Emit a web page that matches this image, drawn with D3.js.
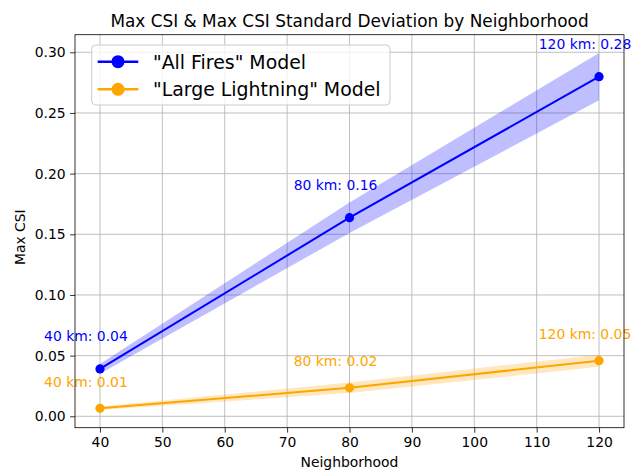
<!DOCTYPE html>
<html>
<head>
<meta charset="utf-8">
<script src="https://cdn.jsdelivr.net/npm/d3@7"></script>
<style>
  body { margin: 0; background: #fff; }
  text { font-family: "DejaVu Sans", sans-serif; }
</style>
</head>
<body>
<svg width="634" height="476"></svg>
<script>
// data
const neighborhoods = [40, 80, 120];
const allFiresCSI = [0.039, 0.1637, 0.2799];
const allFiresStd = [0.004, 0.0126, 0.0195];
const lightningCSI = [0.0066, 0.0235, 0.0458];
const lightningStd = [0.0015, 0.0044, 0.005];
const xTicks = [40, 50, 60, 70, 80, 90, 100, 110, 120];
const yTicks = [0, 0.05, 0.10, 0.15, 0.20, 0.25, 0.30];

const series = [
  { name: '"All Fires" Model', color: '#0000ff', vals: allFiresCSI, std: allFiresStd, lift: 0.02 },
  { name: '"Large Lightning" Model', color: '#ffa500', vals: lightningCSI, std: lightningStd, lift: 0.015 }
];

const svg = d3.select('svg');
const mLeft = 75, mRight = 624, mTop = 34.7, mBottom = 427.7;

const x = d3.scaleLinear().domain([36, 124]).range([mLeft, mRight]);
const y = d3.scaleLinear().domain([-0.0094, 0.3145]).range([mBottom, mTop]);

// grid
svg.append('g').selectAll('line').data(xTicks).join('line')
  .attr('x1', d => x(d)).attr('x2', d => x(d))
  .attr('y1', mTop).attr('y2', mBottom)
  .attr('stroke', '#b0b0b0').attr('stroke-width', 0.8);
svg.append('g').selectAll('line').data(yTicks).join('line')
  .attr('x1', mLeft).attr('x2', mRight)
  .attr('y1', d => y(d)).attr('y2', d => y(d))
  .attr('stroke', '#b0b0b0').attr('stroke-width', 0.8);

// bands + lines + markers
series.forEach(s => {
  const pts = neighborhoods.map((n, i) => ({ n: n, v: s.vals[i], sd: s.std[i] }));
  svg.append('path').datum(pts)
    .attr('d', d3.area().x(d => x(d.n)).y0(d => y(d.v - d.sd)).y1(d => y(d.v + d.sd)))
    .attr('fill', s.color).attr('fill-opacity', 0.25);
  svg.append('path').datum(pts)
    .attr('d', d3.line().x(d => x(d.n)).y(d => y(d.v)))
    .attr('fill', 'none').attr('stroke', s.color).attr('stroke-width', 2);
  svg.append('g').selectAll('circle').data(pts).join('circle')
    .attr('cx', d => x(d.n)).attr('cy', d => y(d.v)).attr('r', 4.6)
    .attr('fill', s.color);
  svg.append('g').selectAll('text').data(pts).join('text')
    .attr('x', d => x(d.n) - 14)
    .attr('y', d => y(d.v + s.lift) - 3.3)
    .attr('text-anchor', 'middle')
    .attr('font-size', 13.9)
    .attr('fill', s.color)
    .text(d => d.n + ' km: ' + d3.format('.2f')(d.v));
});

// axes
const xAxis = svg.append('g').attr('transform', `translate(0,${mBottom})`)
  .call(d3.axisBottom(x).tickValues(xTicks).tickSize(4.9).tickPadding(4.5).tickFormat(d3.format('d')));
const yAxis = svg.append('g').attr('transform', `translate(${mLeft},0)`)
  .call(d3.axisLeft(y).tickValues(yTicks).tickSize(4.9).tickPadding(4.5).tickFormat(d3.format('.2f')));
[xAxis, yAxis].forEach(a => {
  a.select('.domain').remove();
  a.selectAll('line').attr('stroke', '#000').attr('stroke-width', 0.8);
  a.selectAll('text').attr('font-size', 13.9).attr('fill', '#000')
    .attr('font-family', '"DejaVu Sans", sans-serif');
});

svg.append('rect')
  .attr('x', mLeft).attr('y', mTop)
  .attr('width', mRight - mLeft).attr('height', mBottom - mTop)
  .attr('fill', 'none').attr('stroke', '#000').attr('stroke-width', 0.8);

// title and axis labels
svg.append('text').attr('x', (mLeft + mRight) / 2).attr('y', 26.5)
  .attr('text-anchor', 'middle').attr('font-size', 16.9).text('Max CSI & Max CSI Standard Deviation by Neighborhood');
svg.append('text').attr('x', (mLeft + mRight) / 2).attr('y', 467)
  .attr('text-anchor', 'middle').attr('font-size', 13.9).text('Neighborhood');
svg.append('text')
  .attr('transform', `translate(25,${(mTop + mBottom) / 2 + 6}) rotate(-90)`)
  .attr('text-anchor', 'middle').attr('font-size', 13.9).text('Max CSI');

// legend
const lg = svg.append('g');
lg.append('rect').attr('x', 91.7).attr('y', 45).attr('width', 298.3).attr('height', 60)
  .attr('rx', 4).attr('fill', '#fff').attr('fill-opacity', 0.8)
  .attr('stroke', '#cccccc').attr('stroke-width', 1);
series.forEach((s, i) => {
  const cy = 61.7 + i * 27.6;
  lg.append('line').attr('x1', 97.7).attr('x2', 138.3).attr('y1', cy).attr('y2', cy)
    .attr('stroke', s.color).attr('stroke-width', 2.6);
  lg.append('circle').attr('cx', 118).attr('cy', cy).attr('r', 6.5).attr('fill', s.color);
  lg.append('text').attr('x', 153).attr('y', cy + 6.8)
    .attr('font-size', 18.9).attr('fill', '#000').text(s.name);
});
</script>
</body>
</html>
